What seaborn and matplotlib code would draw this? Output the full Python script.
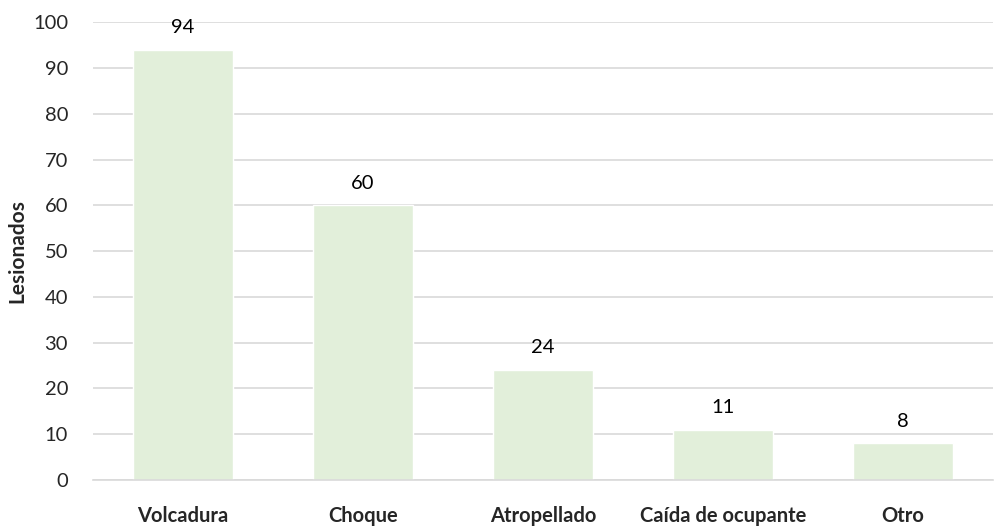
import pandas as pd
import matplotlib
matplotlib.use('Agg')
import matplotlib.pyplot as plt
import seaborn as sns

categorias = ['Volcadura', 'Choque', 'Atropellado', 'Caída de ocupante', 'Otro']
lesionados = [94, 60, 24, 11, 8]

df = pd.DataFrame({'tipo': categorias, 'lesionados': lesionados})

sns.set_style('white')
plt.rcParams['font.family'] = ['Lato', 'DejaVu Sans']

fig = plt.figure(figsize=(9.95, 5.29), dpi=100)
ax = fig.add_axes([0.0935, 0.0926, 0.9045, 0.8654])

sns.barplot(data=df, x='tipo', y='lesionados', color='#E2EFDA', width=0.556,
            saturation=1, ax=ax, zorder=2)

for i, v in enumerate(lesionados):
    ax.text(i, v + 3, str(v), ha='center', va='bottom', fontsize=14.5, color='#000000')

ax.set_ylim(0, 100)
ax.set_xlim(-0.5, 4.5)
ax.set_yticks(range(0, 101, 10))
ax.yaxis.grid(True, color='#D9D9D9', linewidth=1.2, zorder=0)
ax.set_axisbelow(True)
for s in ['top', 'right', 'left']:
    ax.spines[s].set_visible(False)
ax.spines['bottom'].set_color('#D9D9D9')
ax.spines['bottom'].set_linewidth(1.2)
ax.tick_params(axis='y', length=0, pad=18, labelsize=14.5)
ax.tick_params(axis='x', length=0, pad=19, labelsize=14.5)
for lab in ax.get_xticklabels():
    lab.set_fontweight('bold')
ax.set_xlabel('')
ax.set_ylabel('Lesionados', fontsize=15, fontweight='bold')
ax.yaxis.set_label_coords(-0.073, 0.5)

fig.savefig('out.png', dpi=100)
